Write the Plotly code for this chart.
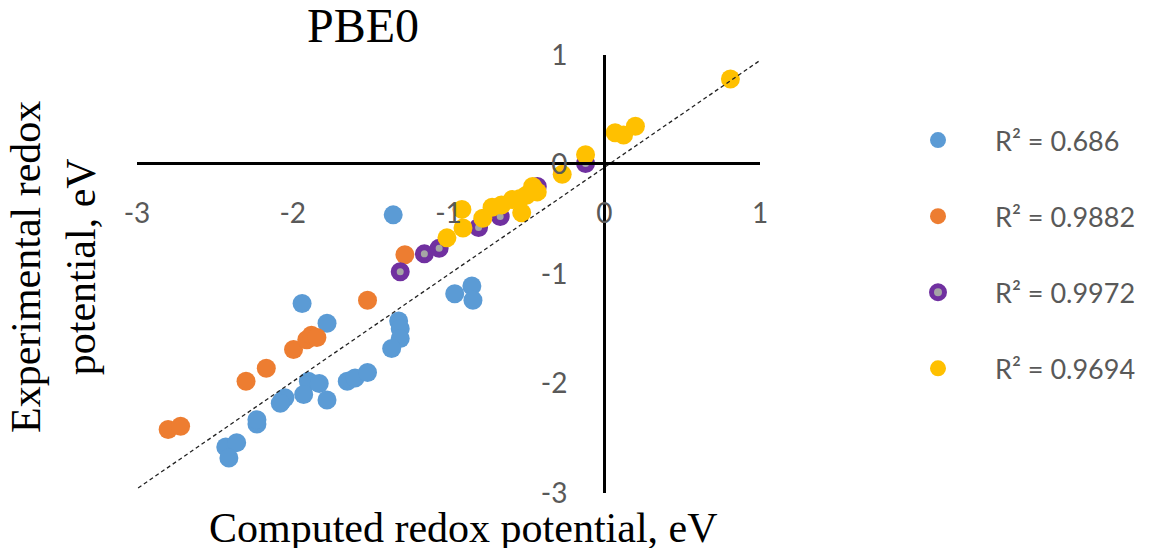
import plotly.graph_objects as go

# ---- data ----
blue_x = [-3.005, -1.94, -1.78, -1.32, -1.31, -1.31, -1.365, -1.90, -1.83, -1.93, -1.78,
          -2.07, -2.05, -2.08, -1.65, -1.60, -1.52, -2.23, -2.23, -2.43, -2.36, -2.41,
          -1.355, -0.96, -0.85, -0.843]
blue_y = [-2.58, -1.27, -1.45, -1.43, -1.50, -1.59, -1.68, -1.98, -2.00, -2.10, -2.15,
          -2.16, -2.13, -2.18, -1.98, -1.95, -1.90, -2.37, -2.33, -2.58, -2.54, -2.68,
          -0.46, -1.18, -1.11, -1.24]

orange_x = [-2.80, -2.72, -2.30, -2.17, -1.995, -1.91, -1.88, -1.845, -1.52, -1.28]
orange_y = [-2.42, -2.39, -1.98, -1.86, -1.69, -1.60, -1.56, -1.58, -1.24, -0.825]

purple_x = [-1.31, -1.155, -1.06, -0.807, -0.668, -0.43, -0.12]
purple_y = [-0.98, -0.816, -0.764, -0.575, -0.475, -0.20, 0.01]

yellow_x = [-0.914, -0.907, -1.01, -0.78, -0.72, -0.66, -0.59, -0.54, -0.53, -0.46,
            -0.43, -0.50, -0.27, -0.12, 0.07, 0.124, 0.20, 0.81]
yellow_y = [-0.41, -0.58, -0.67, -0.49, -0.39, -0.37, -0.32, -0.31, -0.44, -0.20,
            -0.25, -0.28, -0.09, 0.09, 0.29, 0.27, 0.35, 0.78]

series_names = ["R\u00b2 = 0.686", "R\u00b2 = 0.9882", "R\u00b2 = 0.9972", "R\u00b2 = 0.9694"]

ref_x = [-3.03, 1.02]
ref_y = [-2.99, 0.97]

tick_vals = [-3, -2, -1, 0, 1]
x_tick_text = ["-3", "-2", "-1", "0", "1"]
y_tick_vals = [1, 0, -1, -2, -3]
y_tick_text = ["1", "0", "-1", "-2", "-3"]

# ---- figure ----
BLUE, ORANGE, PURPLE, GRAY, YELLOW = "#5B9BD5", "#ED7D31", "#7030A0", "#A5A5A5", "#FFC000"

fig = go.Figure()
fig.add_trace(go.Scatter(x=blue_x, y=blue_y, mode="markers", name=series_names[0],
                         legendgroup="a", cliponaxis=False,
                         marker=dict(color=BLUE, size=19, line=dict(width=0))))
fig.add_trace(go.Scatter(x=orange_x, y=orange_y, mode="markers", name=series_names[1],
                         legendgroup="b", cliponaxis=False,
                         marker=dict(color=ORANGE, size=19, line=dict(width=0))))
fig.add_trace(go.Scatter(x=purple_x, y=purple_y, mode="markers", name=series_names[2],
                         legendgroup="c", cliponaxis=False,
                         marker=dict(color=GRAY, size=13, line=dict(width=6, color=PURPLE))))
fig.add_trace(go.Scatter(x=yellow_x, y=yellow_y, mode="markers", name=series_names[3],
                         legendgroup="d", cliponaxis=False,
                         marker=dict(color=YELLOW, size=19, line=dict(width=0))))
fig.add_trace(go.Scatter(x=ref_x, y=ref_y, mode="lines", showlegend=False, cliponaxis=False,
                         line=dict(color="#222222", width=1.3, dash="4px,3px")))

# page body has an 8px margin; figure coordinates = screen - 8
W, H = 1142, 540
L, R, T, B = 129, 390, 47, 55
PW, PH = W - L - R, H - T - B
tick_font = dict(family="Lato", size=28, color="#595959")


def px_x(p):
    return (p - L) / PW


def px_y(p):
    return (H - B - p) / PH


fig.update_layout(
    width=W, height=H,
    margin=dict(l=L, r=R, t=T, b=B, autoexpand=False),
    paper_bgcolor="white", plot_bgcolor="white",
    showlegend=True,
    legend=dict(x=px_x(873), y=px_y(108), xanchor="left", yanchor="top",
                font=dict(family="Lato", size=27, color="#595959"),
                traceorder="grouped", tracegroupgap=38, itemwidth=104,
                bgcolor="rgba(0,0,0,0)"),
    title=dict(text="PBE0", x=px_x(355), xref="paper", xanchor="center",
               y=1 - 17 / H, yref="container", yanchor="middle",
               font=dict(family="Liberation Serif", size=48, color="black")),
    xaxis=dict(range=[-3, 1], tickvals=tick_vals, ticktext=x_tick_text,
               showgrid=False, zeroline=False, showline=True, linecolor="black", linewidth=3,
               ticks="", anchor="free", position=px_y(155),
               tickfont=tick_font, ticklabelstandoff=24, automargin=False),
    yaxis=dict(range=[-3, 1], tickvals=y_tick_vals, ticktext=y_tick_text,
               showgrid=False, zeroline=False, showline=True, linecolor="black", linewidth=3,
               ticks="", anchor="free", position=px_x(596),
               tickfont=tick_font, ticklabelstandoff=30, automargin=False),
    annotations=[
        dict(text="Computed redox potential, eV", x=px_x(455), y=px_y(520),
             xref="paper", yref="paper", showarrow=False, xanchor="center", yanchor="middle",
             font=dict(family="Liberation Serif", size=42, color="black")),
        dict(text="Experimental redox<br>potential, eV", x=px_x(45), y=px_y(259),
             xref="paper", yref="paper", showarrow=False, xanchor="center", yanchor="middle",
             textangle=-90,
             font=dict(family="Liberation Serif", size=42, color="black")),
    ],
)

fig.write_html("out.html")
